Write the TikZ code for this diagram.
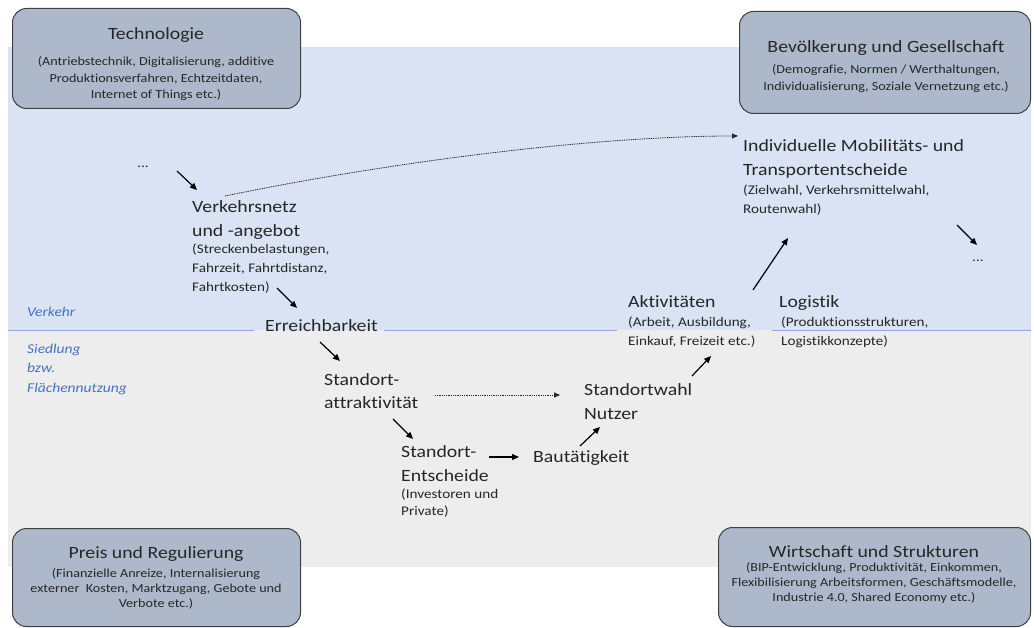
\documentclass[tikz,border=0pt]{standalone}
\usepackage{fontspec}
\setmainfont{Carlito}[FakeStretch=1.15, Ligatures=NoCommon]
\usetikzlibrary{arrows.meta}
\definecolor{bandblue}{HTML}{DAE3F3}
\definecolor{bandgray}{HTML}{EDEDED}
\definecolor{boxfill}{HTML}{ADB9CA}
\definecolor{boxline}{HTML}{404040}
\definecolor{lblue}{HTML}{4472C4}
\definecolor{sepline}{HTML}{8FAADC}
\definecolor{txtc}{HTML}{262626}
\newcommand\mainf{\fontsize{17.2}{24}\selectfont}
\newcommand\mainfb{\fontsize{17.2}{23}\selectfont}
\newcommand\subf{\fontsize{13.2}{19}\selectfont}
\newcommand\subfb{\fontsize{13.2}{17}\selectfont}
\newcommand\boxtf{\fontsize{17.2}{20}\selectfont}
\newcommand\boxsf{\fontsize{12.3}{16.5}\selectfont}
\newcommand\boxsfb{\fontsize{12.3}{15}\selectfont}
\newcommand\lblf{\fontsize{13.5}{19.5}\selectfont\itshape}
\begin{document}
\begin{tikzpicture}[x=1pt,y=-1pt,
  cbox/.style={draw=boxline, line width=1pt, fill=boxfill, rounded corners=14pt, anchor=north west, inner sep=0},
  tl/.style={inner sep=0, anchor=base west, align=left, text=txtc},
  tc/.style={inner sep=0, anchor=base, align=center, text=txtc},
  lbl/.style={inner sep=0, anchor=base west, align=left, text=lblue, font=\lblf},
  arr/.style={-{Triangle[length=7pt,width=6pt]}, line width=1.2pt, black},
  dotarr/.style={-{Triangle[length=6pt,width=5pt]}, line width=0.8pt, dash pattern=on 1pt off 0.8pt, black!85}]
\useasboundingbox (0,0) rectangle (1034,628);
% bands
\fill[bandblue] (8,47) rectangle (1031,330);
\fill[bandgray] (8,330) rectangle (1031,567);
\draw[sepline, line width=0.9pt] (8,330) -- (254,330);
\draw[sepline, line width=0.9pt] (384,330) -- (617,330);
\draw[sepline, line width=0.9pt] (772,330) -- (1031,330);
% boxes
\node[cbox, minimum width=288, minimum height=100] (tech) at (12,8) {};
\node[cbox, minimum width=291, minimum height=102] (bev) at (739,11) {};
\node[cbox, minimum width=288, minimum height=98] (preis) at (12,528) {};
\node[cbox, minimum width=312, minimum height=99] (wirt) at (718,527) {};
\node[tc, font=\boxtf] (techT) at (156,40) {Technologie};
\node[tc, font=\boxsf] (techS) at (156,99) {(Antriebstechnik, Digitalisierung, additive\\Produktionsverfahren, Echtzeitdaten,\\Internet of Things etc.)};
\node[tc, font=\boxtf] (bevT) at (886,53) {Bevölkerung und Gesellschaft};
\node[tc, font=\fontsize{12.3}{17}\selectfont] (bevS) at (886,91) {(Demografie, Normen / Werthaltungen,\\Individualisierung, Soziale Vernetzung etc.)};
\node[tc, font=\boxtf] (preisT) at (156,558) {Preis und Regulierung};
\node[tc, font=\boxsfb] (preisS) at (156,607) {(Finanzielle Anreize, Internalisierung\\externer\ \ Kosten, Marktzugang, Gebote und\\Verbote etc.)};
\node[tc, font=\boxtf] (wirtT) at (874,557) {Wirtschaft und Strukturen};
\node[tc, font=\boxsfb] (wirtS) at (874,601) {(BIP-Entwicklung, Produktivität, Einkommen,\\Flexibilisierung Arbeitsformen, Geschäftsmodelle,\\Industrie 4.0, Shared Economy etc.)};
% side labels
\node[lbl] (verkehr) at (27,317) {Verkehr};
\node[lbl] (siedl) at (27,392) {Siedlung\\bzw.\\Flächennutzung};
% middle texts
\node[tl, font=\subf] (dotsL) at (137,168) {...};
\node[tl, font=\mainf] (verkM) at (192,237) {Verkehrsnetz\\und -angebot};
\node[tl, font=\subf] (verkS) at (192,292) {(Streckenbelastungen,\\Fahrzeit, Fahrtdistanz,\\Fahrtkosten)};
\node[tl, font=\mainf] (erreich) at (265,332) {Erreichbarkeit};
\node[tl, font=\mainfb] (attr) at (324,408) {Standort-\\attraktivität};
\node[tl, font=\mainf] (entM) at (401,481) {Standort-\\Entscheide};
\node[tl, font=\subfb] (entS) at (401,515) {(Investoren und\\Private)};
\node[tl, font=\mainf] (bau) at (533,462) {Bautätigkeit};
\node[tl, font=\mainf] (wahl) at (584,419) {Standortwahl\\Nutzer};
\node[tl, font=\mainf] (aktM) at (628,308) {Aktivitäten};
\node[tl, font=\subf] (aktS) at (628,346) {(Arbeit, Ausbildung,\\Einkauf, Freizeit etc.)};
\node[tl, font=\mainf] (logM) at (779,308) {Logistik};
\node[tl, font=\subf] (logS) at (781,346) {(Produktionsstrukturen,\\Logistikkonzepte)};
\node[tl, font=\mainf] (indM) at (743,176) {Individuelle Mobilitäts- und\\Transportentscheide};
\node[tl, font=\subf] (indS) at (743,214) {(Zielwahl, Verkehrsmittelwahl,\\Routenwahl)};
\node[tl, font=\subf] (dotsR) at (972,262) {...};
% arrow end points
\coordinate (a1s) at (177,171); \coordinate (a1e) at (197,190);
\coordinate (a2s) at (277,288); \coordinate (a2e) at (297,308);
\coordinate (a3s) at (320,342); \coordinate (a3e) at (340,361);
\coordinate (a4s) at (393,419); \coordinate (a4e) at (413,439);
\coordinate (a5s) at (489,457); \coordinate (a5e) at (519,457);
\coordinate (a6s) at (580,446); \coordinate (a6e) at (600,427);
\coordinate (a7s) at (692,376); \coordinate (a7e) at (711,356);
\coordinate (a8s) at (753,290); \coordinate (a8e) at (788,238);
\coordinate (a9s) at (957,225); \coordinate (a9e) at (977,245);
\coordinate (d1s) at (435,395); \coordinate (d1e) at (560,395);
\coordinate (d2s) at (225,196); \coordinate (d2e) at (738,136);
\draw[arr] (a1s) -- (a1e);
\draw[arr] (a2s) -- (a2e);
\draw[arr] (a3s) -- (a3e);
\draw[arr] (a4s) -- (a4e);
\draw[arr] (a5s) -- (a5e);
\draw[arr] (a6s) -- (a6e);
\draw[arr] (a7s) -- (a7e);
\draw[arr] (a8s) -- (a8e);
\draw[arr] (a9s) -- (a9e);
\draw[dotarr] (d1s) -- (d1e);
\draw[dotarr] (d2s) .. controls (400,160) and (600,136) .. (d2e);
\end{tikzpicture}
\end{document}
